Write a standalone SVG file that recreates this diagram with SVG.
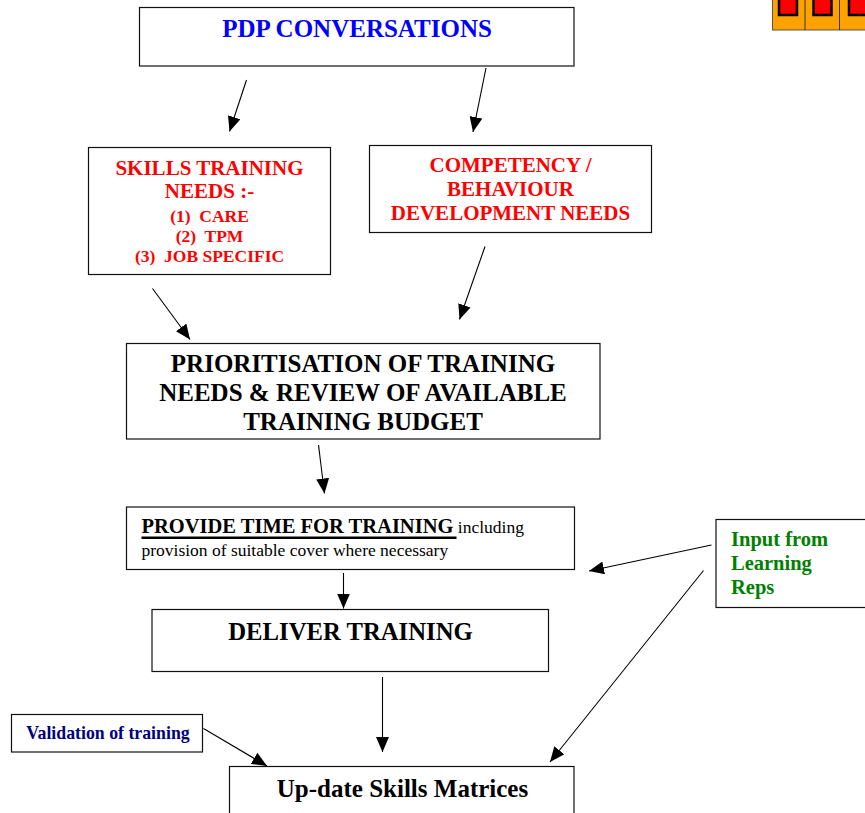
<svg xmlns="http://www.w3.org/2000/svg" width="865" height="813" viewBox="0 0 865 813">
<defs>
<marker id="ah" markerUnits="userSpaceOnUse" markerWidth="15" markerHeight="13" refX="15" refY="6.5" orient="auto">
<path d="M0,0 L15,6.5 L0,13 z" fill="#000"/>
</marker>
</defs>
<style>
.box{fill:#fff;stroke:#111;stroke-width:1.2}
.t{font-family:"Liberation Serif","Times New Roman",serif;font-weight:bold;text-anchor:middle}
.n{font-family:"Liberation Serif","Times New Roman",serif;font-weight:normal}
.red{fill:#ff0000}
.pre{white-space:pre}
.c line{stroke:#000;stroke-width:1.1;marker-end:url(#ah)}
</style>
<rect width="865" height="813" fill="#fff"/>

<g id="icon">
<rect x="772.5" y="-5" width="95" height="35" fill="#ffa200" stroke="#555" stroke-width="1"/>
<line x1="805" y1="0" x2="805" y2="30" stroke="#333" stroke-width="1"/>
<line x1="839.5" y1="0" x2="839.5" y2="30" stroke="#333" stroke-width="1"/>
<rect x="779" y="-4" width="18" height="19" fill="#ff0000" stroke="#000" stroke-width="2.5"/>
<rect x="813.5" y="-4" width="18" height="19" fill="#ff0000" stroke="#000" stroke-width="2.5"/>
<rect x="849" y="-4" width="18" height="19" fill="#ff0000" stroke="#000" stroke-width="2.5"/>
</g>

<g id="pdp">
<rect class="box" x="139.5" y="7.5" width="434.5" height="58.5"/>
<text class="t" x="357" y="37" font-size="25" fill="#0000ff">PDP CONVERSATIONS</text>
</g>

<g id="skills">
<rect class="box" x="88.5" y="147.5" width="242" height="127"/>
<text class="t red" x="209.5" y="175" font-size="21">SKILLS TRAINING</text>
<text class="t red" x="209.5" y="197.5" font-size="21">NEEDS :-</text>
<text class="t red pre" x="209.5" y="222" font-size="17.5">(1)  CARE</text>
<text class="t red pre" x="209.5" y="242" font-size="17.5">(2)  TPM</text>
<text class="t red pre" x="209.5" y="262" font-size="17.5">(3)  JOB SPECIFIC</text>
</g>

<g id="competency">
<rect class="box" x="369.5" y="145.5" width="282" height="87"/>
<text class="t red" x="510.5" y="172" font-size="21">COMPETENCY /</text>
<text class="t red" x="510.5" y="196" font-size="21">BEHAVIOUR</text>
<text class="t red" x="510.5" y="220" font-size="21">DEVELOPMENT NEEDS</text>
</g>

<g id="prioritisation">
<rect class="box" x="126.5" y="343.5" width="473.5" height="95.5"/>
<text class="t" x="363" y="372" font-size="25" fill="#000">PRIORITISATION OF TRAINING</text>
<text class="t" x="363" y="401" font-size="25" fill="#000">NEEDS &amp; REVIEW OF AVAILABLE</text>
<text class="t" x="363" y="430" font-size="25" fill="#000">TRAINING BUDGET</text>
</g>

<g id="providetime">
<rect class="box" x="126.5" y="507" width="448" height="62.5"/>
<text x="141.5" y="533" font-family="&quot;Liberation Serif&quot;,&quot;Times New Roman&quot;,serif" fill="#000"><tspan font-weight="bold" font-size="20.5">PROVIDE TIME FOR TRAINING</tspan><tspan font-size="17.5"> including</tspan></text>
<line x1="141.5" y1="537.8" x2="456.5" y2="537.8" stroke="#000" stroke-width="2.4"/>
<text class="n" x="141.5" y="556" font-size="17.5" fill="#000">provision of suitable cover where necessary</text>
</g>

<g id="deliver">
<rect class="box" x="152" y="609.5" width="396.5" height="62"/>
<text class="t" x="350.5" y="640" font-size="24.7" fill="#000">DELIVER TRAINING</text>
</g>

<g id="update">
<rect class="box" x="229.5" y="766.5" width="344.5" height="60"/>
<text class="t" x="402.5" y="797" font-size="25" fill="#000">Up-date Skills Matrices</text>
</g>

<g id="validation">
<rect class="box" x="11.5" y="714.5" width="191" height="37.5"/>
<text class="t" x="108" y="739" font-size="17.8" fill="#000080">Validation of training</text>
</g>

<g id="learningreps">
<rect class="box" x="716" y="519.5" width="155" height="88"/>
<text x="731" y="545.5" font-family="&quot;Liberation Serif&quot;,&quot;Times New Roman&quot;,serif" font-weight="bold" font-size="20.5" fill="#008000">Input from</text>
<text x="731" y="570" font-family="&quot;Liberation Serif&quot;,&quot;Times New Roman&quot;,serif" font-weight="bold" font-size="20.5" fill="#008000">Learning</text>
<text x="731" y="594" font-family="&quot;Liberation Serif&quot;,&quot;Times New Roman&quot;,serif" font-weight="bold" font-size="20.5" fill="#008000">Reps</text>
</g>

<g id="connectors" class="c">
<line x1="246.5" y1="80" x2="229.5" y2="131.5"/>
<line x1="486" y1="68" x2="473" y2="132"/>
<line x1="152.5" y1="288.5" x2="190" y2="339.5"/>
<line x1="485" y1="246.5" x2="459.5" y2="319.5"/>
<line x1="318.5" y1="445" x2="324.5" y2="493.5"/>
<line x1="343.5" y1="573" x2="343.5" y2="608.5"/>
<line x1="382.5" y1="677" x2="382.5" y2="752"/>
<line x1="203.5" y1="728.5" x2="267" y2="766"/>
<line x1="711.5" y1="545" x2="589" y2="571"/>
<line x1="703.5" y1="570.5" x2="550" y2="762"/>
</g>
</svg>
